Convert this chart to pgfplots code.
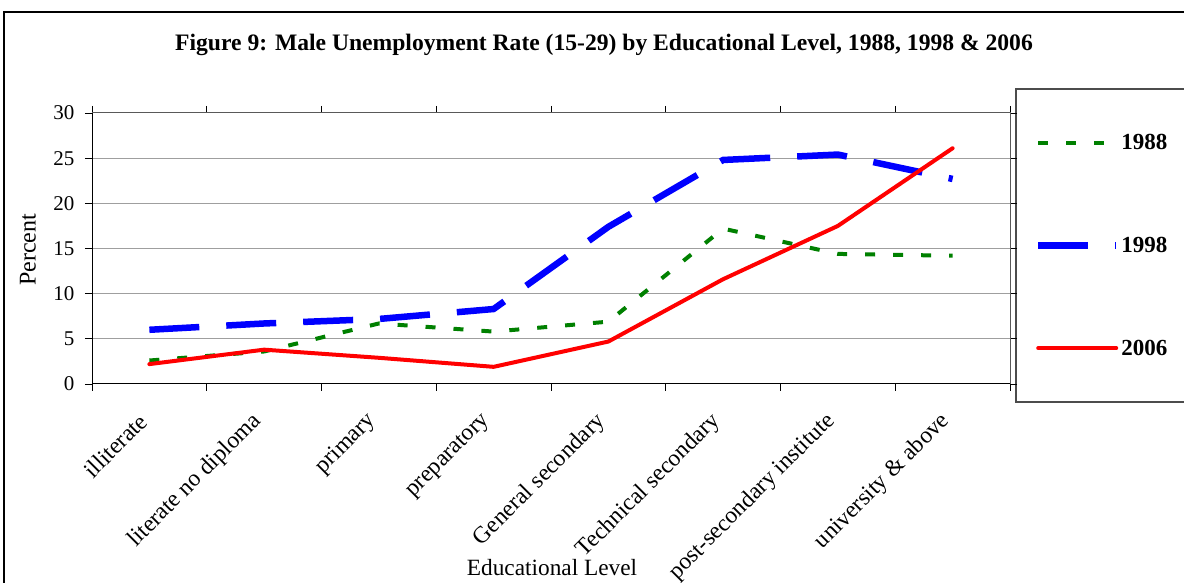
\documentclass[border=0pt]{standalone}
\usepackage{fontspec}
\setmainfont{Liberation Serif}
\usepackage{pgfplots}
\pgfplotsset{compat=1.18}
\definecolor{cgreen}{RGB}{0,128,0}
\definecolor{cblue}{RGB}{0,0,255}
\definecolor{cred}{RGB}{255,0,0}
\begin{document}
\begin{tikzpicture}
\useasboundingbox (0,0) rectangle (1184pt,583pt);
\clip (0,0) rectangle (1184pt,583pt);
\draw[line width=1.5pt] (4pt,-20pt) -- (4pt,571pt) -- (1200pt,571pt);
\node[font=\fontsize{23.6}{28}\selectfont\bfseries] at (604pt,538pt) {Figure 9: Male Unemployment Rate (15-29) by Educational Level, 1988, 1998 \& 2006};
\node[font=\fontsize{24}{28}\selectfont, rotate=90] at (28pt,333pt) {Percent};
\node[font=\fontsize{23.3}{28}\selectfont] at (552pt,15pt) {Educational Level};
\draw[gray!60!black, line width=1.2pt] (1016pt,181pt) rectangle (1200pt,494pt);
\begin{axis}[
  at={(92pt,199pt)}, anchor=south west, scale only axis,
  width=918pt, height=271pt,
  xmin=-0.5, xmax=7.5, ymin=0, ymax=30,
  xtick={-0.5,0.5,1.5,2.5,3.5,4.5,5.5,6.5,7.5},
  xticklabels={},
  extra x ticks={0,1,2,3,4,5,6,7},
  extra x tick labels={illiterate,literate no diploma,primary,preparatory,General secondary,Technical secondary,post-secondary institute,university \& above},
  extra x tick style={major tick length=0pt, grid=none},
  ytick={0,5,10,15,20,25,30},
  tick align=outside, major tick length=7pt,
  ymajorgrids, grid style={gray!75, line width=1pt},
  axis line style={gray!70!black, line width=1pt},
  tick style={black, line width=0.8pt},
  ticklabel style={font=\fontsize{21}{25}\selectfont},
  yticklabel style={xshift=-7pt},
  /pgf/number format/assume math mode=true,
  xticklabel style={font=\fontsize{23.5}{28}\selectfont, rotate=45, anchor=east, xshift=-25pt, yshift=-19.5pt},
  legend style={at={(1.027,0.93)}, anchor=north west, draw=none, fill=none,
    font=\fontsize{23}{27}\selectfont\bfseries, row sep=82pt, inner sep=0pt},
  legend cell align=left,
  legend image code/.code={\draw[#1] (0pt,0pt) -- (78pt,0pt);},
]
\addplot[cgreen, line width=4pt, dash pattern=on 10pt off 18pt] coordinates {
 (0,2.6) (1,3.6) (2,6.7) (3,5.8) (4,6.9) (5,17.2) (6,14.4) (7,14.2)};
\addlegendentry{1988}
\addplot[cblue, line width=6.5pt, dash pattern=on 50pt off 27pt] coordinates {
 (0,6.0) (1,6.7) (2,7.2) (3,8.3) (4,17.4) (5,24.8) (6,25.4) (7,22.7)};
\addlegendentry{1998}
\addplot[cred, line width=4pt, line cap=round] coordinates {
 (0,2.2) (1,3.8) (2,2.9) (3,1.9) (4,4.7) (5,11.6) (6,17.5) (7,26.1)};
\addlegendentry{2006}
\draw[black, line width=1.2pt] (rel axis cs:0,0) -- (rel axis cs:1,0);
\draw[black, line width=1.2pt] (rel axis cs:0,0) -- (rel axis cs:0,1);
\end{axis}
\end{tikzpicture}
\end{document}
